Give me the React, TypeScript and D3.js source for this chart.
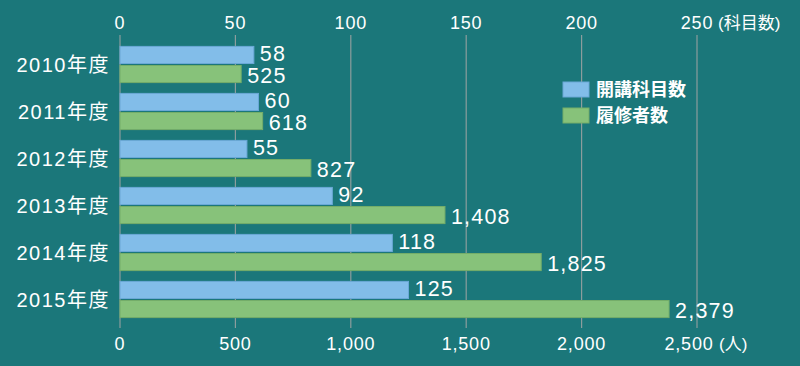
import React from "react";
import * as d3 from "d3";

const years = ["2010年度", "2011年度", "2012年度", "2013年度", "2014年度", "2015年度"];
const courses = [58, 60, 55, 92, 118, 125];
const students = [525, 618, 827, 1408, 1825, 2379];
const topTicks = [0, 50, 100, 150, 200, 250];
const bottomTicks = [0, 500, 1000, 1500, 2000, 2500];
const legendItems = ["開講科目数", "履修者数"];

const W = 800;
const H = 366;
const BG = "#1b777a";
const BLUE = "#82bde9";
const GREEN = "#87c27a";
const FONT = "'Liberation Sans', Arial, 'Noto Sans CJK JP', sans-serif";

export default function App() {
  const xCourse = d3.scaleLinear().domain([0, 250]).range([120, 697]);
  const xStudent = d3.scaleLinear().domain([0, 2500]).range([120, 697]);
  const y = d3
    .scaleBand()
    .domain(years)
    .range([41, 323])
    .paddingInner(0.23)
    .paddingOuter(0.115);
  const barH = (y.bandwidth() - 2) / 2;
  const fmt = d3.format(",");

  return (
    <svg
      width={W}
      height={H}
      style={{ position: "absolute", left: 0, top: 0, fontFamily: FONT }}
    >
      <rect width={W} height={H} fill={BG} />

      {/* grid */}
      {topTicks.map((t) => (
        <line
          key={t}
          x1={xCourse(t)}
          x2={xCourse(t)}
          y1={35}
          y2={328}
          stroke="#8c9d9d"
          strokeWidth={1.2}
        />
      ))}

      {/* top axis labels */}
      {topTicks.map((t) => (
        <text
          key={"t" + t}
          x={xCourse(t)}
          y={29}
          fill="#fff"
          fontSize={18}
          letterSpacing={0.8}
          textAnchor="middle"
        >
          {t}
        </text>
      ))}
      <text x={xCourse(250) + 21} y={29} fill="#fff" fontSize={17}>
        (科目数)
      </text>

      {/* bottom axis labels */}
      {bottomTicks.map((t) => (
        <text
          key={"b" + t}
          x={xStudent(t) - (t === 2500 ? 8 : 0)}
          y={350}
          fill="#fff"
          fontSize={18}
          letterSpacing={0.8}
          textAnchor="middle"
        >
          {fmt(t)}
        </text>
      ))}
      <text x={xStudent(2500) + 22} y={350} fill="#fff" fontSize={17}>
        (人)
      </text>

      {/* bars */}
      {years.map((yr, i) => {
        const y0 = y(yr) as number;
        return (
          <g key={yr}>
            <text
              x={110}
              y={y0 + y.bandwidth() / 2 + 7}
              fill="#fff"
              fontSize={20}
              letterSpacing={1.5}
              textAnchor="end"
            >
              {yr}
            </text>
            <rect
              x={xCourse(0)}
              y={y0}
              width={xCourse(courses[i]) - xCourse(0)}
              height={barH}
              fill={BLUE}
              stroke="#6aa8d6"
              strokeWidth={1}
            />
            <text
              x={xCourse(courses[i]) + 6}
              y={y0 + barH / 2 + 6.5}
              fill="#fff"
              fontSize={21.5}
              letterSpacing={1.2}
            >
              {courses[i]}
            </text>
            <rect
              x={xStudent(0)}
              y={y0 + barH + 2}
              width={xStudent(students[i]) - xStudent(0)}
              height={barH}
              fill={GREEN}
              stroke="#74ad69"
              strokeWidth={1}
            />
            <text
              x={xStudent(students[i]) + 6}
              y={y0 + barH + 2 + barH / 2 + 8.5}
              fill="#fff"
              fontSize={21.5}
              letterSpacing={1.2}
            >
              {fmt(students[i])}
            </text>
          </g>
        );
      })}

      {/* legend */}
      {legendItems.map((name, i) => (
        <g key={name} transform={`translate(563, ${82 + i * 26})`}>
          <rect
            width={26}
            height={15}
            fill={i === 0 ? BLUE : GREEN}
            stroke={i === 0 ? "#6aa8d6" : "#74ad69"}
          />
          <text x={33} y={14} fill="#fff" fontSize={18} fontWeight="bold">
            {name}
          </text>
        </g>
      ))}
    </svg>
  );
}
